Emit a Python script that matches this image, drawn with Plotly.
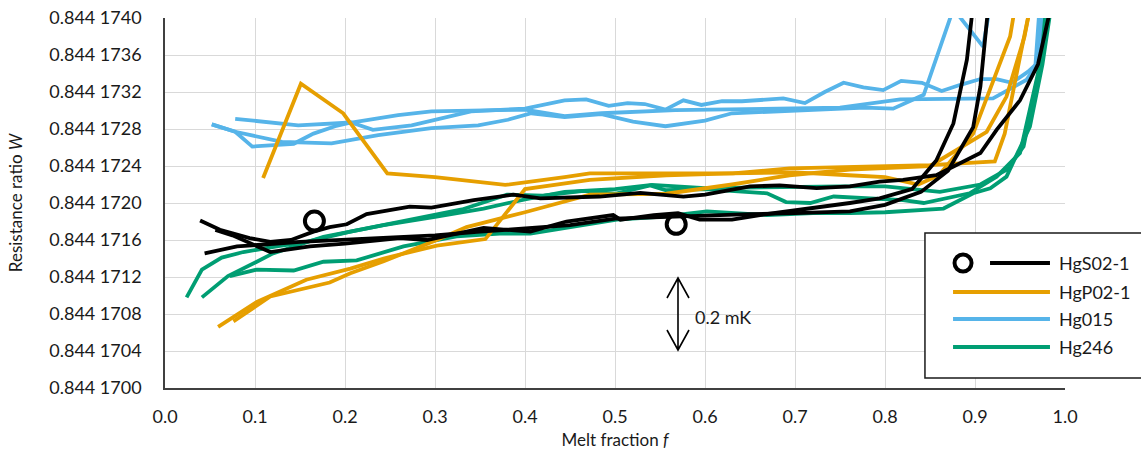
import plotly.graph_objects as go

# ---------------- tick labels ----------------
y_tick_values = [0.8441700, 0.8441704, 0.8441708, 0.8441712, 0.8441716, 0.8441720,
                 0.8441724, 0.8441728, 0.8441732, 0.8441736, 0.8441740]
y_tick_labels = ["0.844 1700", "0.844 1704", "0.844 1708", "0.844 1712", "0.844 1716",
                 "0.844 1720", "0.844 1724", "0.844 1728", "0.844 1732", "0.844 1736",
                 "0.844 1740"]
x_tick_values = [0.0, 0.1, 0.2, 0.3, 0.4, 0.5, 0.6, 0.7, 0.8, 0.9, 1.0]
x_tick_labels = ["0.0", "0.1", "0.2", "0.3", "0.4", "0.5", "0.6", "0.7", "0.8", "0.9", "1.0"]

series_names = ["HgS02-1", "HgP02-1", "Hg015", "Hg246"]
series_colors = ["#000000", "#E69F00", "#56B4E9", "#009E73"]

# ---------------- HgS02-1 (black) ----------------
hgs02_run1_f = [0.039, 0.061, 0.094, 0.117, 0.14, 0.165, 0.183, 0.202, 0.224, 0.272, 0.296,
                0.343, 0.387, 0.417, 0.483, 0.528, 0.576, 0.60, 0.65, 0.683, 0.724, 0.761,
                0.794, 0.82, 0.857, 0.906, 0.924, 0.95, 0.97, 0.985]
hgs02_run1_W = [0.84417181, 0.84417171, 0.84417162, 0.84417158, 0.84417160, 0.84417169,
                0.84417174, 0.84417177, 0.84417188, 0.84417196, 0.84417195, 0.84417203,
                0.84417209, 0.84417205, 0.84417207, 0.84417211, 0.84417207, 0.84417209,
                0.84417218, 0.84417219, 0.84417216, 0.84417218, 0.84417223, 0.84417225,
                0.84417230, 0.84417254, 0.84417279, 0.84417311, 0.84417350, 0.84417415]
hgs02_run2_f = [0.056, 0.075, 0.117, 0.161, 0.2, 0.261, 0.291, 0.354, 0.406, 0.446, 0.498,
                0.506, 0.543, 0.57, 0.594, 0.63, 0.661, 0.706, 0.761, 0.794, 0.83, 0.857,
                0.876, 0.891, 0.898]
hgs02_run2_W = [0.84417171, 0.84417165, 0.84417147, 0.84417153, 0.84417156, 0.84417162,
                0.84417160, 0.84417173, 0.84417169, 0.84417180, 0.84417187, 0.84417182,
                0.84417187, 0.84417189, 0.84417182, 0.84417182, 0.84417187, 0.844171925,
                0.84417200, 0.84417205, 0.84417215, 0.84417246, 0.84417286, 0.84417355,
                0.84417415]
hgs02_run3_f = [0.044, 0.08, 0.15, 0.2, 0.25, 0.3, 0.35, 0.4, 0.45, 0.5, 0.55, 0.6, 0.65,
                0.7, 0.761, 0.80, 0.84, 0.87, 0.898, 0.906, 0.915]
hgs02_run3_W = [0.844171455, 0.84417153, 0.84417158, 0.84417160, 0.84417163, 0.84417165,
                0.84417169, 0.84417172, 0.84417176, 0.84417183, 0.84417185, 0.84417187,
                0.84417188, 0.84417189, 0.84417191, 0.84417198, 0.84417212, 0.84417235,
                0.84417282, 0.84417326, 0.84417415]
hgs02_marker_f = [0.166, 0.568]
hgs02_marker_W = [0.844171805, 0.84417177]

# ---------------- HgP02-1 (orange) ----------------
hgp02_run1_f = [0.109, 0.151, 0.198, 0.247, 0.30, 0.378, 0.444, 0.472, 0.55, 0.631, 0.694,
                0.761, 0.85, 0.922, 0.933, 0.95, 0.962]
hgp02_run1_W = [0.84417227, 0.84417329, 0.84417297, 0.84417232, 0.84417228, 0.844172195,
                0.84417228, 0.84417232, 0.84417232, 0.84417232, 0.844172375, 0.84417239,
                0.84417241, 0.84417245, 0.84417275, 0.84417358, 0.84417415]
hgp02_run2_f = [0.059, 0.102, 0.157, 0.206, 0.243, 0.302, 0.356, 0.40, 0.472, 0.557, 0.63,
                0.70, 0.76, 0.80, 0.837, 0.86, 0.898, 0.939, 0.945]
hgp02_run2_W = [0.84417066, 0.84417093, 0.84417117, 0.84417129, 0.84417140, 0.84417154,
                0.84417161, 0.84417215, 0.84417225, 0.84417230, 0.84417232, 0.84417233,
                0.84417230, 0.84417228, 0.84417220, 0.84417230, 0.84417275, 0.84417380,
                0.84417415]
hgp02_run3_f = [0.076, 0.117, 0.183, 0.206, 0.243, 0.302, 0.335, 0.372, 0.40, 0.472, 0.557,
                0.63, 0.694, 0.761, 0.85, 0.913, 0.935, 0.955, 0.962]
hgp02_run3_W = [0.84417072, 0.84417099, 0.84417114, 0.84417124, 0.84417137, 0.84417160,
                0.84417174, 0.84417183, 0.84417190, 0.84417209, 0.84417210, 0.84417220,
                0.84417230, 0.84417236, 0.84417240, 0.84417277, 0.84417315, 0.84417380,
                0.84417415]

# ---------------- Hg015 (blue) ----------------
hg015_run1_f = [0.052, 0.078, 0.097, 0.143, 0.165, 0.189, 0.207, 0.231, 0.274, 0.34, 0.40,
                0.444, 0.468, 0.493, 0.514, 0.533, 0.556, 0.576, 0.596, 0.619, 0.641, 0.667,
                0.687, 0.711, 0.733, 0.754, 0.776, 0.798, 0.818, 0.841, 0.863, 0.883, 0.906,
                0.924, 0.941, 0.959, 0.969, 0.975]
hg015_run1_W = [0.84417285, 0.84417277, 0.84417261, 0.84417264, 0.84417275, 0.84417283,
                0.84417287, 0.84417279, 0.84417284, 0.84417299, 0.84417302, 0.84417311,
                0.84417312, 0.84417305, 0.84417308, 0.84417307, 0.84417301, 0.84417311,
                0.84417306, 0.84417310, 0.84417310, 0.84417312, 0.84417313, 0.84417308,
                0.84417320, 0.84417330, 0.84417325, 0.84417322, 0.84417332, 0.84417330,
                0.84417321, 0.844173275, 0.84417334, 0.84417334, 0.84417330, 0.84417342,
                0.84417351, 0.84417415]
hg015_run2_f = [0.052, 0.078, 0.13, 0.185, 0.237, 0.296, 0.348, 0.381, 0.407, 0.444, 0.485,
                0.52, 0.556, 0.60, 0.63, 0.70, 0.778, 0.809, 0.843, 0.876, 0.909, 0.918]
hg015_run2_W = [0.84417285, 0.84417277, 0.84417266, 0.844172645, 0.844172735, 0.84417281,
                0.84417284, 0.84417290, 0.84417297, 0.84417293, 0.84417296, 0.84417288,
                0.84417283, 0.84417289, 0.84417297, 0.84417300, 0.84417303, 0.84417302,
                0.84417317, 0.84417410, 0.84417369, 0.84417420]
hg015_run3_f = [0.078, 0.148, 0.207, 0.259, 0.296, 0.35, 0.40, 0.444, 0.485, 0.567, 0.65,
                0.75, 0.817, 0.92, 0.942, 0.957, 0.967, 0.972]
hg015_run3_W = [0.84417291, 0.84417284, 0.84417287, 0.84417295, 0.84417299, 0.84417300,
                0.84417301, 0.84417294, 0.84417297, 0.844173005, 0.84417302, 0.84417303,
                0.84417312, 0.84417313, 0.84417325, 0.84417333, 0.84417347, 0.84417415]

# ---------------- Hg246 (green) ----------------
hg246_run1_f = [0.024, 0.041, 0.063, 0.087, 0.124, 0.157, 0.206, 0.28, 0.33, 0.38, 0.42,
                0.465, 0.50, 0.539, 0.556, 0.60, 0.669, 0.69, 0.717, 0.743, 0.78, 0.82,
                0.843, 0.894, 0.924, 0.95, 0.97, 0.978]
hg246_run1_W = [0.84417098, 0.84417128, 0.84417141, 0.84417147, 0.84417153, 0.84417158,
                0.84417169, 0.844171835, 0.84417193, 0.84417209, 0.84417208, 0.84417213,
                0.84417210, 0.84417219, 0.84417214, 0.84417215, 0.844172105, 0.84417201,
                0.84417200, 0.84417207, 0.84417205, 0.84417203, 0.84417200, 0.844172105,
                0.844172285, 0.84417254, 0.84417340, 0.84417415]
hg246_run2_f = [0.041, 0.07, 0.102, 0.12, 0.176, 0.243, 0.30, 0.354, 0.40, 0.444, 0.50,
                0.541, 0.60, 0.65, 0.70, 0.75, 0.80, 0.861, 0.906, 0.935, 0.954, 0.972, 0.98]
hg246_run2_W = [0.84417098, 0.84417121, 0.844171365, 0.844171455, 0.844171635, 0.84417176,
                0.84417185, 0.84417194, 0.84417204, 0.84417212, 0.84417215, 0.844172195,
                0.84417216, 0.84417217, 0.84417218, 0.84417218, 0.84417218, 0.84417212,
                0.84417220, 0.84417236, 0.84417261, 0.84417347, 0.84417415]
hg246_run3_f = [0.072, 0.102, 0.143, 0.176, 0.213, 0.265, 0.324, 0.372, 0.406, 0.454, 0.502,
                0.55, 0.602, 0.669, 0.72, 0.761, 0.80, 0.865, 0.898, 0.917, 0.935, 0.961,
                0.975, 0.985]
hg246_run3_W = [0.84417121, 0.84417128, 0.84417127, 0.844171365, 0.84417138, 0.84417153,
                0.84417164, 0.84417167, 0.84417167, 0.84417174, 0.84417182, 0.84417185,
                0.84417191, 0.84417187, 0.84417189, 0.84417189, 0.84417190, 0.84417194,
                0.844172105, 0.84417216, 0.844172285, 0.844172825, 0.84417350, 0.84417415]

annotation_text = "0.2 mK"

FONT = "Lato, 'Open Sans', sans-serif"
TXT = "#1a1a1a"
LW = 3.8

fig = go.Figure()

groups = [
    (3, [(hg246_run1_f, hg246_run1_W), (hg246_run2_f, hg246_run2_W), (hg246_run3_f, hg246_run3_W)]),
    (2, [(hg015_run1_f, hg015_run1_W), (hg015_run2_f, hg015_run2_W), (hg015_run3_f, hg015_run3_W)]),
    (1, [(hgp02_run1_f, hgp02_run1_W), (hgp02_run2_f, hgp02_run2_W), (hgp02_run3_f, hgp02_run3_W)]),
    (0, [(hgs02_run1_f, hgs02_run1_W), (hgs02_run2_f, hgs02_run2_W), (hgs02_run3_f, hgs02_run3_W)]),
]
for idx, runs in groups:
    for f, w in runs:
        fig.add_trace(go.Scatter(
            x=f, y=w, mode="lines", name=series_names[idx],
            line=dict(color=series_colors[idx], width=LW),
            showlegend=False, legendgroup=series_names[idx], hoverinfo="skip"))

fig.add_trace(go.Scatter(
    x=hgs02_marker_f, y=hgs02_marker_W, mode="markers", name=series_names[0],
    marker=dict(symbol="circle-open", size=19, color="#000000", line=dict(width=4, color="#000000")),
    showlegend=False, cliponaxis=False))

shapes = []
# double-headed arrow (pixel path anchored in data coordinates)
shapes.append(dict(type="path", xref="x", yref="y", xsizemode="pixel", ysizemode="pixel",
                   xanchor=0.57, yanchor=0.8441708,
                   path="M0,-36 L0,36 M-11,16 L0,36 L11,16 M-11,-16 L0,-36 L11,-16",
                   line=dict(color="#000000", width=1.6), layer="above"))

# custom legend box
shapes.append(dict(type="rect", xref="paper", yref="paper", x0=0.8444, x1=1.25,
                   y0=0.027, y1=0.4189, line=dict(color="#1a1a1a", width=1.5),
                   fillcolor="white", layer="above"))
legend_rows = [0.3378, 0.2595, 0.1865, 0.1108]
annotations = []
for i, name in enumerate(series_names):
    x0 = 0.9167 if i == 0 else 0.8756
    shapes.append(dict(type="line", xref="paper", yref="paper", x0=x0, x1=0.9833,
                       y0=legend_rows[i], y1=legend_rows[i],
                       line=dict(color=series_colors[i], width=4), layer="above"))
    annotations.append(dict(xref="paper", yref="paper", x=0.991, y=legend_rows[i],
                            xanchor="left", yanchor="middle", text=name, showarrow=False,
                            font=dict(family=FONT, size=18, color=TXT)))
shapes.append(dict(type="circle", xref="paper", yref="paper", xsizemode="pixel",
                   ysizemode="pixel", xanchor=0.8867, yanchor=legend_rows[0],
                   x0=-8.5, x1=8.5, y0=-8.5, y1=8.5,
                   line=dict(color="#000000", width=4), layer="above"))

annotations.append(dict(xref="x", yref="y", x=0.5867, y=0.84417077, xanchor="left",
                        yanchor="middle", text=annotation_text, showarrow=False,
                        font=dict(family=FONT, size=18, color=TXT)))

fig.update_layout(
    width=1141, height=450,
    margin=dict(l=165, r=76, t=18, b=62, autoexpand=False),
    paper_bgcolor="white", plot_bgcolor="white",
    font=dict(family=FONT, size=16, color=TXT),
    showlegend=False,
    shapes=shapes, annotations=annotations,
    xaxis=dict(range=[0, 1], tickvals=x_tick_values, ticktext=x_tick_labels,
               showgrid=True, gridcolor="#d9d9d9", gridwidth=1,
               showline=True, linecolor="#404040", linewidth=1.5, zeroline=False,
               ticks="", ticklabelstandoff=12, automargin=False,
               tickfont=dict(family=FONT, size=18, color=TXT),
               title=dict(text="Melt fraction <i>f</i>", standoff=9,
                          font=dict(family=FONT, size=17, color=TXT))),
    yaxis=dict(range=[0.8441700, 0.8441740], tickvals=y_tick_values, ticktext=y_tick_labels,
               showgrid=True, gridcolor="#d9d9d9", gridwidth=1,
               showline=True, linecolor="#404040", linewidth=1.5, zeroline=False,
               ticks="", ticklabelstandoff=18, automargin=False,
               tickfont=dict(family=FONT, size=18, color=TXT),
               title=dict(text="Resistance ratio <i>W</i>", standoff=22,
                          font=dict(family=FONT, size=17, color=TXT))),
)

fig.write_html("out.html", config={"displayModeBar": False},
               post_script="document.body.style.margin='0';")
